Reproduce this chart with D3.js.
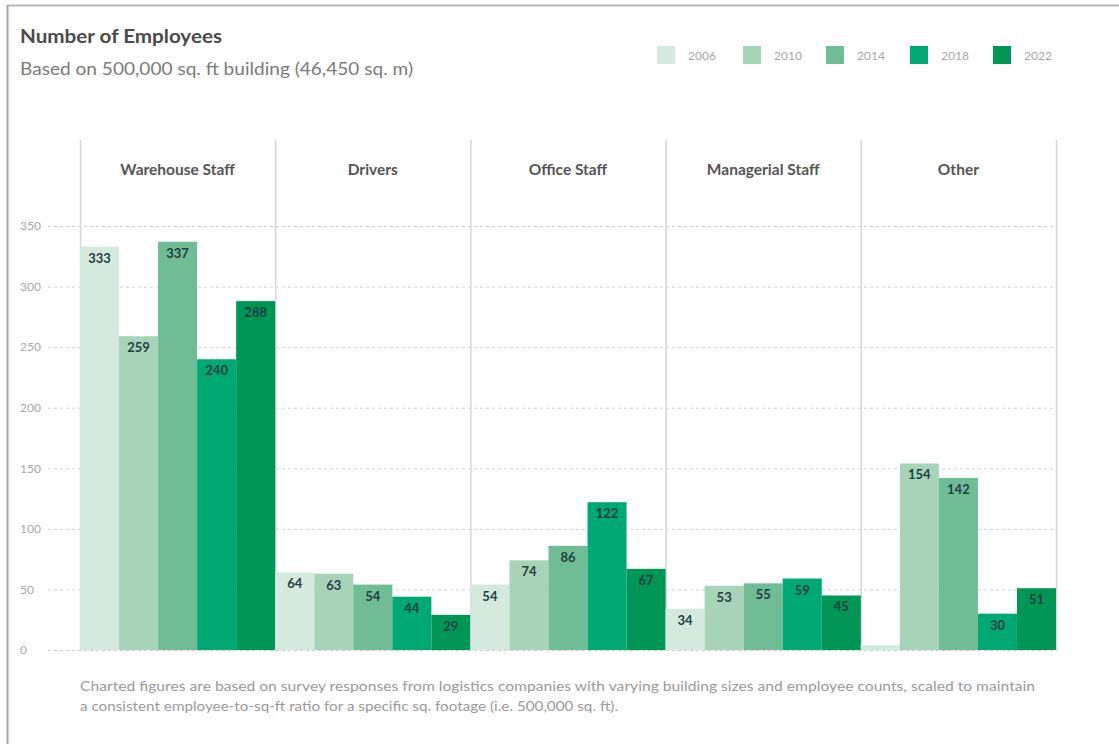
<!DOCTYPE html>
<html><head><meta charset="utf-8">
<script src="https://cdn.jsdelivr.net/npm/d3@7"></script>
<style>
html,body{margin:0;padding:0;background:#fff;}
svg{display:block;font-family:Lato,"Open Sans",sans-serif;}
</style></head>
<body>
<svg id="chart" width="1119" height="744"></svg>
<script>
const categories = ["Warehouse Staff","Drivers","Office Staff","Managerial Staff","Other"];
const years = ["2006","2010","2014","2018","2022"];
const v2006 = [333, 64, 54, 34, 4];
const v2010 = [259, 63, 74, 53, 154];
const v2014 = [337, 54, 86, 55, 142];
const v2018 = [240, 44, 122, 59, 30];
const v2022 = [288, 29, 67, 45, 51];
const yTicks = [0,50,100,150,200,250,300,350];
const colors = ["#d4eadd","#a7d4b9","#70bd95","#00a873","#009655"];
const series = [v2006, v2010, v2014, v2018, v2022];

const svg = d3.select("#chart");

// frame
svg.append("line").attr("x1",7.5).attr("x2",1119).attr("y1",5.5).attr("y2",5.5).attr("stroke","#b8b8b8").attr("stroke-width",2);
svg.append("line").attr("x1",7.5).attr("x2",7.5).attr("y1",5).attr("y2",744).attr("stroke","#aaa4a8").attr("stroke-width",2);

// title
svg.append("text").attr("x",20).attr("y",43).attr("font-size",18).attr("font-weight",700).attr("fill","#4a4a4a")
  .attr("textLength",202).attr("lengthAdjust","spacingAndGlyphs").text("Number of Employees");
svg.append("text").attr("x",20).attr("y",75).attr("font-size",17.5).attr("fill","#7a7a7a")
  .attr("textLength",393).attr("lengthAdjust","spacingAndGlyphs").text("Based on 500,000 sq. ft building (46,450 sq. m)");

// legend
const legX = [657, 743, 826, 910, 993];
years.forEach((yr,i)=>{
  svg.append("rect").attr("x",legX[i]).attr("y",46).attr("width",18).attr("height",18).attr("fill",colors[i]);
  svg.append("text").attr("x",legX[i]+31).attr("y",59.5).attr("font-size",12).attr("fill","#a8a8a8").text(yr);
});

// scales
const x0 = d3.scaleBand().domain(categories).range([80,1056]).paddingInner(0).paddingOuter(0);
const x1 = d3.scaleBand().domain(years).range([0,x0.bandwidth()]).padding(0);
const y = d3.scaleLinear().domain([0,350]).range([650,226]);

// gridlines
const grid = svg.append("g");
grid.selectAll("line").data(yTicks).join("line")
  .attr("x1",48).attr("x2",1056)
  .attr("y1",d=>y(d)+0.5).attr("y2",d=>y(d)+0.5)
  .attr("stroke","#d0d0d0").attr("stroke-dasharray","3,3");

// y axis labels
const yAxis = d3.axisLeft(y).tickValues(yTicks).tickSize(0).tickPadding(0);
const ya = svg.append("g").attr("transform","translate(20,0)").call(yAxis);
ya.select(".domain").remove();
ya.selectAll("text").attr("text-anchor","start").attr("x",0).attr("font-size",12).attr("fill","#a8a8a8").attr("font-family","Lato,sans-serif");

// panel lines
const edges = categories.map(c=>x0(c)).concat([x0.range()[1]]);
svg.append("g").selectAll("line").data(edges).join("line")
  .attr("x1",d=>d+0.5).attr("x2",d=>d+0.5).attr("y1",140).attr("y2",651)
  .attr("stroke","#d6d6d6").attr("stroke-width",1.5);

// category labels
svg.append("g").selectAll("text").data(categories).join("text")
  .attr("x",d=>x0(d)+x0.bandwidth()/2).attr("y",175)
  .attr("text-anchor","middle").attr("font-size",15.5).attr("font-weight",700).attr("fill","#555")
  .text(d=>d);

// bars
const groups = svg.append("g").selectAll("g").data(categories).join("g")
  .attr("transform",d=>`translate(${x0(d)},0)`);
groups.each(function(cat,ci){
  const g = d3.select(this);
  years.forEach((yr,si)=>{
    const v = series[si][ci];
    g.append("rect").attr("x",x1(yr)).attr("width",x1.bandwidth())
      .attr("y",y(v)).attr("height",y(0)-y(v)).attr("fill",colors[si]);
    if (v >= 10) {
      g.append("text").attr("x",x1(yr)+x1.bandwidth()/2).attr("y",y(v)+16)
        .attr("text-anchor","middle").attr("font-size",13).attr("font-weight",700)
        .attr("fill","#1f4040").text(v);
    }
  });
});

// footnote
svg.append("text").attr("x",80).attr("y",691).attr("font-size",13).attr("fill","#9a9a9a")
  .attr("textLength",955).attr("lengthAdjust","spacingAndGlyphs")
  .text("Charted figures are based on survey responses from logistics companies with varying building sizes and employee counts, scaled to maintain");
svg.append("text").attr("x",80).attr("y",711).attr("font-size",13).attr("fill","#9a9a9a")
  .attr("textLength",538).attr("lengthAdjust","spacingAndGlyphs")
  .text("a consistent employee-to-sq-ft ratio for a specific sq. footage (i.e. 500,000 sq. ft).");
</script>
</body></html>
